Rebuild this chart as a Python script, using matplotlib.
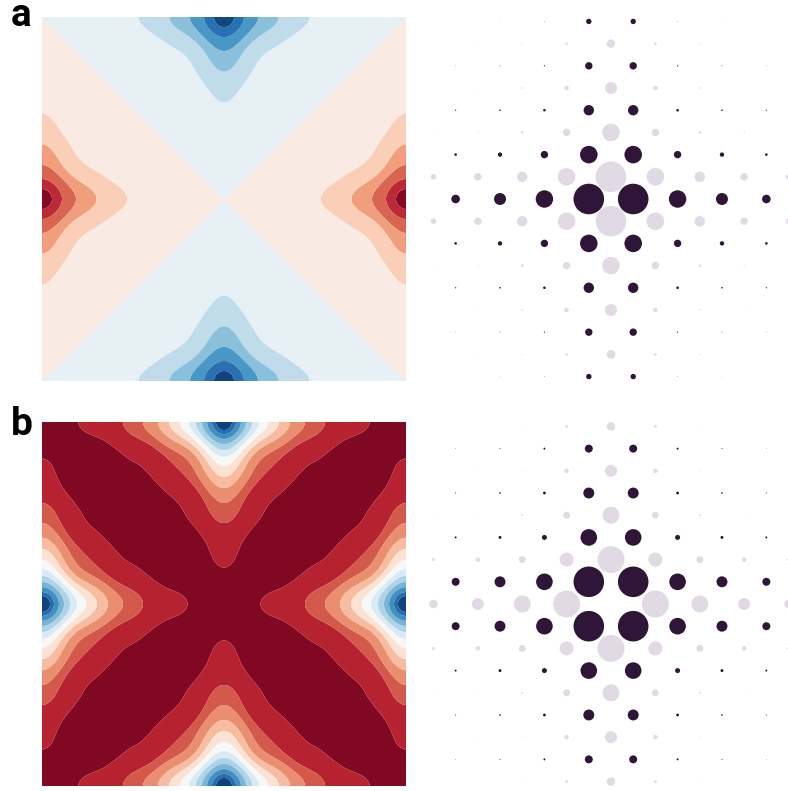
import numpy as np
import matplotlib
matplotlib.use("Agg")
import matplotlib.pyplot as plt

W, H = 788, 791

# spectrum amplitudes (px^2), rows = |n|, columns = |m|
a_dark_m = [1, 3, 5, 7]
a_dark_n = [0, 2, 4, 6, 8]
a_dark_amp = [[234, 76, 36, 18.5],
              [77, 13.7, 4.8, 1.7],
              [27, 1.7, 0.64, 0.36],
              [13.7, 0.36, 0.16, 0.09],
              [7.3, 0.09, 0.04, 0.01]]
a_light_m = [0, 2, 4, 6, 8]
a_light_n = [1, 3, 5, 7]
a_light_amp = [[234, 77, 27, 13.7, 7.3],
               [76, 13.7, 1.7, 0.36, 0.09],
               [36, 4.8, 0.64, 0.16, 0.04],
               [18.5, 1.7, 0.36, 0.09, 0.01]]

b_dark_m = [1, 3, 5, 7]
b_dark_n = [1, 3, 5, 7]
b_dark_amp = [[234, 69, 30, 16],
              [69, 6.3, 2.2, 1],
              [30, 2, 0.64, 0.25],
              [16, 1, 0.25, 0.09]]
b_light_m = [0, 2, 4, 6, 8]
b_light_n = [0, 2, 4, 6, 8]
b_light_amp = [[0, 182, 72, 36, 17.6],
               [182, 49, 11.6, 4.8, 2],
               [72, 11.6, 1, 0.25, 0.09],
               [36, 4.8, 0.25, 0.09, 0.04],
               [17.6, 2, 0.09, 0.04, 0.01]]

# how far each contour reaches in from the edge midpoint, as a fraction of the half width
a_reach = [0.47, 0.30, 0.187, 0.11, 0.055]
b_reach = [0.80, 0.555, 0.445, 0.363, 0.302, 0.242, 0.192, 0.154, 0.121, 0.093, 0.066, 0.044]

panels = ["a", "b"]
DARK = "#2f1537"
LIGHT = "#e1d9e3"
GAMMA = 1.15  # field coefficient vs marker area


def lattice(ms, ns, amps):
    # mirror one quadrant of the table into all four
    xs, ys, vs = [], [], []
    for j, n in enumerate(ns):
        for i, m in enumerate(ms):
            if amps[j][i] <= 0:
                continue
            for sx in ([1, -1] if m else [1]):
                for sy in ([1, -1] if n else [1]):
                    xs.append(sx * m); ys.append(sy * n); vs.append(amps[j][i])
    return np.array(xs), np.array(ys), np.array(vs)


def series(pos, neg, x, y):
    z = np.zeros_like(x, dtype=float)
    for (mx, ny, v), sign in ((pos, 1), (neg, -1)):
        for m, n, c in zip(mx, ny, v):
            z += sign * c ** GAMMA * np.cos(m * np.pi * x) * np.cos(n * np.pi * y)
    return z


def box(x0, y0, w, h):
    return fig.add_axes([x0 / W, 1 - (y0 + h) / H, w / W, h / H])


fig = plt.figure(figsize=(W / 100, H / 100), dpi=100)

spectra = [
    (lattice(a_dark_m, a_dark_n, a_dark_amp), lattice(a_light_m, a_light_n, a_light_amp)),
    (lattice(b_dark_m, b_dark_n, b_dark_amp), lattice(b_light_m, b_light_n, b_light_amp)),
]
tops = [17, 422]
label_y = [26, 435]
grid = np.linspace(-1, 1, 601)
X, Y = np.meshgrid(grid, grid)
cmap = plt.get_cmap("RdBu")

for k, (dark, light) in enumerate(spectra):
    top = tops[k]
    ax = box(42, top, 364, 364)
    pos, neg = (dark, light) if k == 0 else (light, dark)
    Z = series(pos, neg, X, Y)
    reach = np.array(a_reach if k == 0 else b_reach)
    edge = series(pos, neg, reach - 1, np.zeros_like(reach))
    if k == 0:
        levels = np.concatenate([[Z.min() - 1], edge[::-1], [0], -edge, [Z.max() + 1]])
    else:
        levels = np.concatenate([[Z.min() - 1], edge, [Z.max() + 1]])
    n = len(levels) - 1
    colors = [cmap((i + 0.5) / n) for i in range(n)]
    ax.contourf(X, Y, Z, levels=levels, colors=colors, antialiased=True)
    ax.set_axis_off()

    sp = box(429, top, 364, 364)
    sp.scatter(light[0], light[1], s=light[2] * 2.07, color=LIGHT, linewidths=0, clip_on=False)
    sp.scatter(dark[0], dark[1], s=dark[2] * 2.07, color=DARK, linewidths=0, clip_on=False)
    sp.set_xlim(-8.2, 8.2)
    sp.set_ylim(-8.2, 8.2)
    sp.set_axis_off()

    fig.text(11 / W, 1 - label_y[k] / H, panels[k], family="Roboto", fontweight="bold",
             fontsize=28, ha="left", va="baseline")

fig.savefig("out.png", dpi=100)
